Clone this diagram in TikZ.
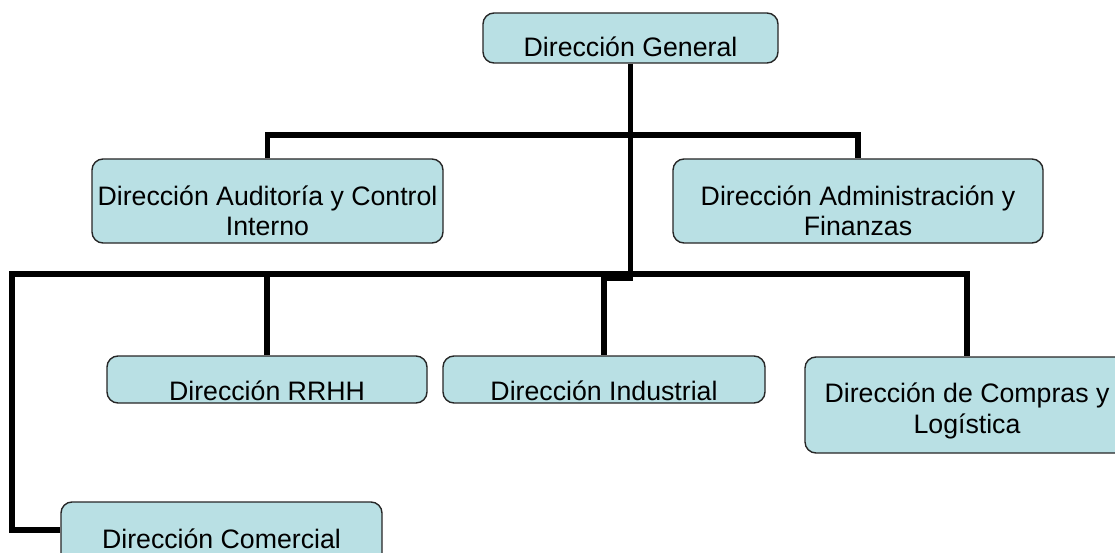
\documentclass[tikz,border=0pt]{standalone}
\usepackage{fontspec}
\setmainfont{Liberation Sans}
\usepackage{tikz}
\usetikzlibrary{positioning}
\usetikzlibrary{backgrounds}
\definecolor{cajaazul}{RGB}{185,224,228}

\begin{document}
\begin{tikzpicture}[x=1pt,y=-1pt,
  caja/.style={draw=black!85, line width=1.4pt, fill=cajaazul, rounded corners=11pt, inner sep=0pt},
  texto/.style={anchor=base, font=\fontsize{26.7}{30.7}\selectfont, align=center, inner sep=0pt},
  linea/.style={line width=5.5pt}]

% Fix the frame
\useasboundingbox (0,0) rectangle (1115,553);
\clip (0,0) rectangle (1115,553);

% Draw boxes
\node[caja, minimum width=295, minimum height=50] (dg) at (630.5,38) {};
\node[caja, minimum width=351, minimum height=84] (aud) at (267.5,201) {};
\node[caja, minimum width=370, minimum height=84] (adm) at (858,201) {};
\node[caja, minimum width=320, minimum height=47] (rrhh) at (267,379.5) {};
\node[caja, minimum width=322, minimum height=47] (ind) at (604,379.5) {};
\node[caja, minimum width=324, minimum height=96] (comp) at (967,405) {};
\node[caja, minimum width=321, minimum height=68] (com) at (221.5,536) {};

% Box texts (base = last line)
\node[texto] (tdg) at (630.5,56.7) {Dirección General};
\node[texto] (taud) at (267.5,236) {Dirección Auditoría y Control\\Interno};
\node[texto] (tadm) at (858,236) {Dirección Administración y\\Finanzas};
\node[texto] (trrhh) at (267,400.7) {Dirección RRHH};
\node[texto] (tind) at (604,400.7) {Dirección Industrial};
\node[texto] (tcomp) at (967,433) {Dirección de Compras y\\Logística};
\node[texto] (tcom) at (221.5,548) {Dirección Comercial};

% Bus points
\coordinate (busArriba) at (0,135);
\coordinate (quiebre) at (0,278);
\coordinate (esquina) at (12,274);
\coordinate (codo) at (12,530);

% Draw connectors
\begin{scope}[on background layer]
\draw[linea] (dg.south) -- (dg.south |- quiebre) -| (ind.north);
\draw[linea] (aud.north) -- (aud.north |- busArriba) -- (adm.north |- busArriba) -- (adm.north);
\draw[linea] (com.west |- codo) -- (codo) -- (esquina) -- (esquina -| comp.north) -- (comp.north);
\draw[linea] (rrhh.north) -- (rrhh.north |- esquina);
\end{scope}

\end{tikzpicture}
\end{document}
